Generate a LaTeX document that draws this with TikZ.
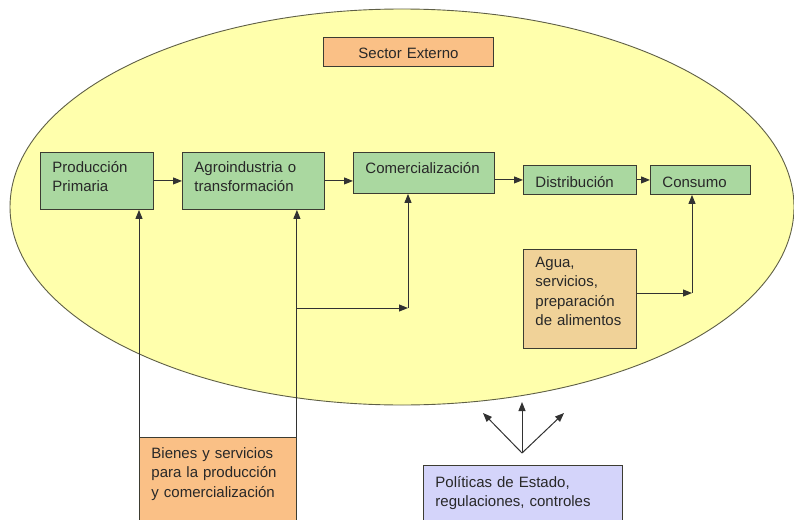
\documentclass[tikz,border=0pt]{standalone}
\usepackage{fontspec}
\setmainfont{Liberation Sans}
\usetikzlibrary{arrows.meta}

\definecolor{sectorfill}{RGB}{255,255,172}
\definecolor{rimline}{RGB}{95,95,70}
\definecolor{greenbox}{RGB}{170,216,160}
\definecolor{orangebox}{RGB}{250,192,134}
\definecolor{tanbox}{RGB}{240,210,152}
\definecolor{lilacbox}{RGB}{212,212,250}
\definecolor{boxline}{RGB}{60,60,50}
\definecolor{arrowgray}{RGB}{50,50,50}
\definecolor{textgray}{RGB}{40,40,40}

\tikzset{
  box/.style={draw=boxline, rectangle, anchor=north west, align=left,
    inner xsep=12pt, inner ysep=0pt, line width=0.9pt, text=textgray,
    font=\fontsize{15}{19.5}\selectfont}
}

\begin{document}
\begin{tikzpicture}[x=1pt,y=-1pt,>={Triangle[length=9pt,width=7pt]}]
  \clip (0,0) rectangle (794,519);
  \draw[draw=rimline, fill=sectorfill, line width=0.9pt] (402,207) ellipse [x radius=392, y radius=198];

  \begin{scope}[every node/.style={box}]
    \node (sector)[fill=orangebox, align=center, text width=146pt, text height=21pt, text depth=8pt] at (323,37) {Sector Externo};
    \node (prod)[fill=greenbox, text width=89pt, text height=20pt, text depth=37pt] at (40,152) {Producción\\Primaria};
    \node (agro)[fill=greenbox, text width=118pt, text height=20pt, text depth=37pt] at (182,152) {Agroindustria o\\transformación};
    \node (comer)[fill=greenbox, text width=117pt, text height=21pt, text depth=20pt] at (353,152) {Comercialización};
    \node (distrib)[fill=greenbox, text width=89pt, text height=22pt, text depth=7pt] at (523,165) {Distribución};
    \node (consumo)[fill=greenbox, text width=76pt, text height=22pt, text depth=7pt] at (650,165) {Consumo};
    \node (agua)[fill=tanbox, text width=89pt, text height=18pt, text depth=81pt] at (523,249) {Agua,\\servicios,\\preparación\\de alimentos};
    \node (bienes)[fill=orangebox, text width=133pt, text height=21pt, text depth=100pt] at (139,437) {Bienes y servicios\\para la producción\\y comercialización};
    \node (politicas)[fill=lilacbox, text width=175pt, text height=22pt, text depth=70pt] at (423,465) {Políticas de Estado,\\regulaciones, controles};
  \end{scope}

  \coordinate (j1) at (408,308);
  \coordinate (j2) at (692,293);
  \coordinate (fan) at (522,453);
  \coordinate (fl) at (483,413);
  \coordinate (fm) at (522,402);
  \coordinate (fr) at (564,413);

  \begin{scope}[draw=arrowgray, line width=1pt]
    \path [->] (prod) edge (agro);
    \path [->] (agro) edge (agro -| comer.west);
    \path [->] (comer.east |- distrib) edge (distrib);
    \path [->] (distrib) edge (consumo);
    \path [->] (bienes.north west) edge (prod.south -| bienes.north west);
    \path [->] (bienes.north east) edge (agro.south -| bienes.north east);
    \path [->] (j1 -| bienes.north east) edge (j1);
    \path [->] (j1) edge (comer.south -| j1);
    \path [->] (agua.east |- j2) edge (j2);
    \path [->] (j2) edge (consumo.south -| j2);
    \path [->] (fan) edge (fl);
    \path [->] (fan) edge (fm);
    \path [->] (fan) edge (fr);
  \end{scope}
\end{tikzpicture}
\end{document}
